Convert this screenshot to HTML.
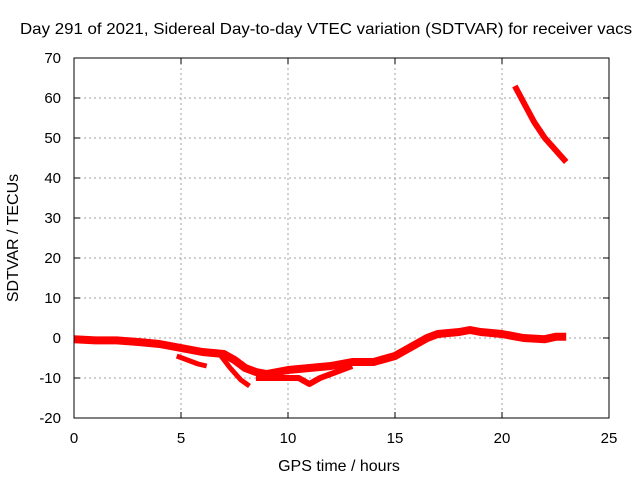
<!DOCTYPE html>
<html><head><meta charset="utf-8"><style>
body{margin:0;background:#fff;}
svg{display:block;font-family:"Liberation Sans",sans-serif;}
</style></head><body>
<svg id="chart" width="640" height="480">
<rect width="640" height="480" fill="#fff"/>
<text x="326" y="34" font-size="16" text-anchor="middle" textLength="612" lengthAdjust="spacingAndGlyphs">Day 291 of 2021, Sidereal Day-to-day VTEC variation (SDTVAR) for receiver vacs</text>
<g id="grid"></g>
<g id="series"></g>
<rect x="74" y="58" width="535" height="360" fill="none" stroke="#000" stroke-width="1"/>
<text x="339" y="471" font-size="16" text-anchor="middle">GPS time / hours</text>
<text x="18" y="238" font-size="16" text-anchor="middle" transform="rotate(-90 18 238)">SDTVAR / TECUs</text>
</svg>
<script>
const xTicks=[0,5,10,15,20,25];
const yTicks=[-20,-10,0,10,20,30,40,50,60,70];
const mainHours=[0,1,2,3,4,5,6,7,7.5,8,8.5,9,10,11,12,13,14,15,16,16.5,17,18,18.5,19,20,21,22,22.5,23];
const mainVals=[-0.3,-0.6,-0.6,-1,-1.5,-2.5,-3.5,-4,-5.5,-7.5,-8.5,-9,-8,-7.5,-7,-6,-6,-4.5,-1.5,0,1,1.5,2,1.5,1,0,-0.3,0.3,0.3];
const branchHours=[4.8,5.3,5.8,6.2];
const branchVals=[-4.5,-5.5,-6.5,-7];
const dipHours=[6.8,7.3,7.8,8.2];
const dipVals=[-4,-7.5,-10.5,-12];
const lowHours=[8.5,9.5,10.5,11,11.5,12,13];
const lowVals=[-10,-10,-10,-11.5,-10,-9,-7];
const topHours=[20.6,21,21.5,22,22.5,23];
const topVals=[63,59,54,50,47,44];
const X=h=>74+h*(535/25);
const Y=v=>338-v*4;
const NS='http://www.w3.org/2000/svg';
const grid=document.getElementById('grid');
function mk(tag,attrs,parent){const e=document.createElementNS(NS,tag);for(const k in attrs)e.setAttribute(k,attrs[k]);parent.appendChild(e);return e;}
xTicks.forEach(t=>{
  const x=X(t);
  if(t>0&&t<25){const l=mk('line',{x1:x,x2:x,y1:58,y2:418,stroke:'#a0a0a0','stroke-dasharray':'2,3'},grid);
  
  }
  mk('line',{x1:x,x2:x,y1:418,y2:412,stroke:'#000'},grid);
  mk('line',{x1:x,x2:x,y1:58,y2:64,stroke:'#000'},grid);
  const tx=mk('text',{x:x,y:443,'font-size':15,'text-anchor':'middle'},grid);
  tx.textContent=t;
  
  
});
yTicks.forEach(t=>{
  const y=Y(t);
  if(t>-20&&t<70){const l=mk('line',{x1:74,x2:609,y1:y,y2:y,stroke:'#a0a0a0','stroke-dasharray':'2,3'},grid);
  
  }
  mk('line',{x1:74,x2:80,y1:y,y2:y,stroke:'#000'},grid);
  mk('line',{x1:609,x2:603,y1:y,y2:y,stroke:'#000'},grid);
  const tx=mk('text',{x:61,y:y+5,'font-size':15,'text-anchor':'end'},grid);
  tx.textContent=t;
  
  
});
const sg=document.getElementById('series');
function draw(hs,vs,w,name){
  const p=mk('polyline',{points:hs.map((h,i)=>X(h)+','+Y(vs[i])).join(' '),fill:'none',stroke:'#f00','stroke-width':w,'stroke-linejoin':'round','stroke-linecap':'butt'},sg);
  
  
}
draw(mainHours,mainVals,8,'series-main');
draw(branchHours,branchVals,5,'series-branch');
draw(dipHours,dipVals,5,'series-dip');
draw(lowHours,lowVals,6,'series-low');
draw(topHours,topVals,6,'series-top');
</script>
</body></html>
